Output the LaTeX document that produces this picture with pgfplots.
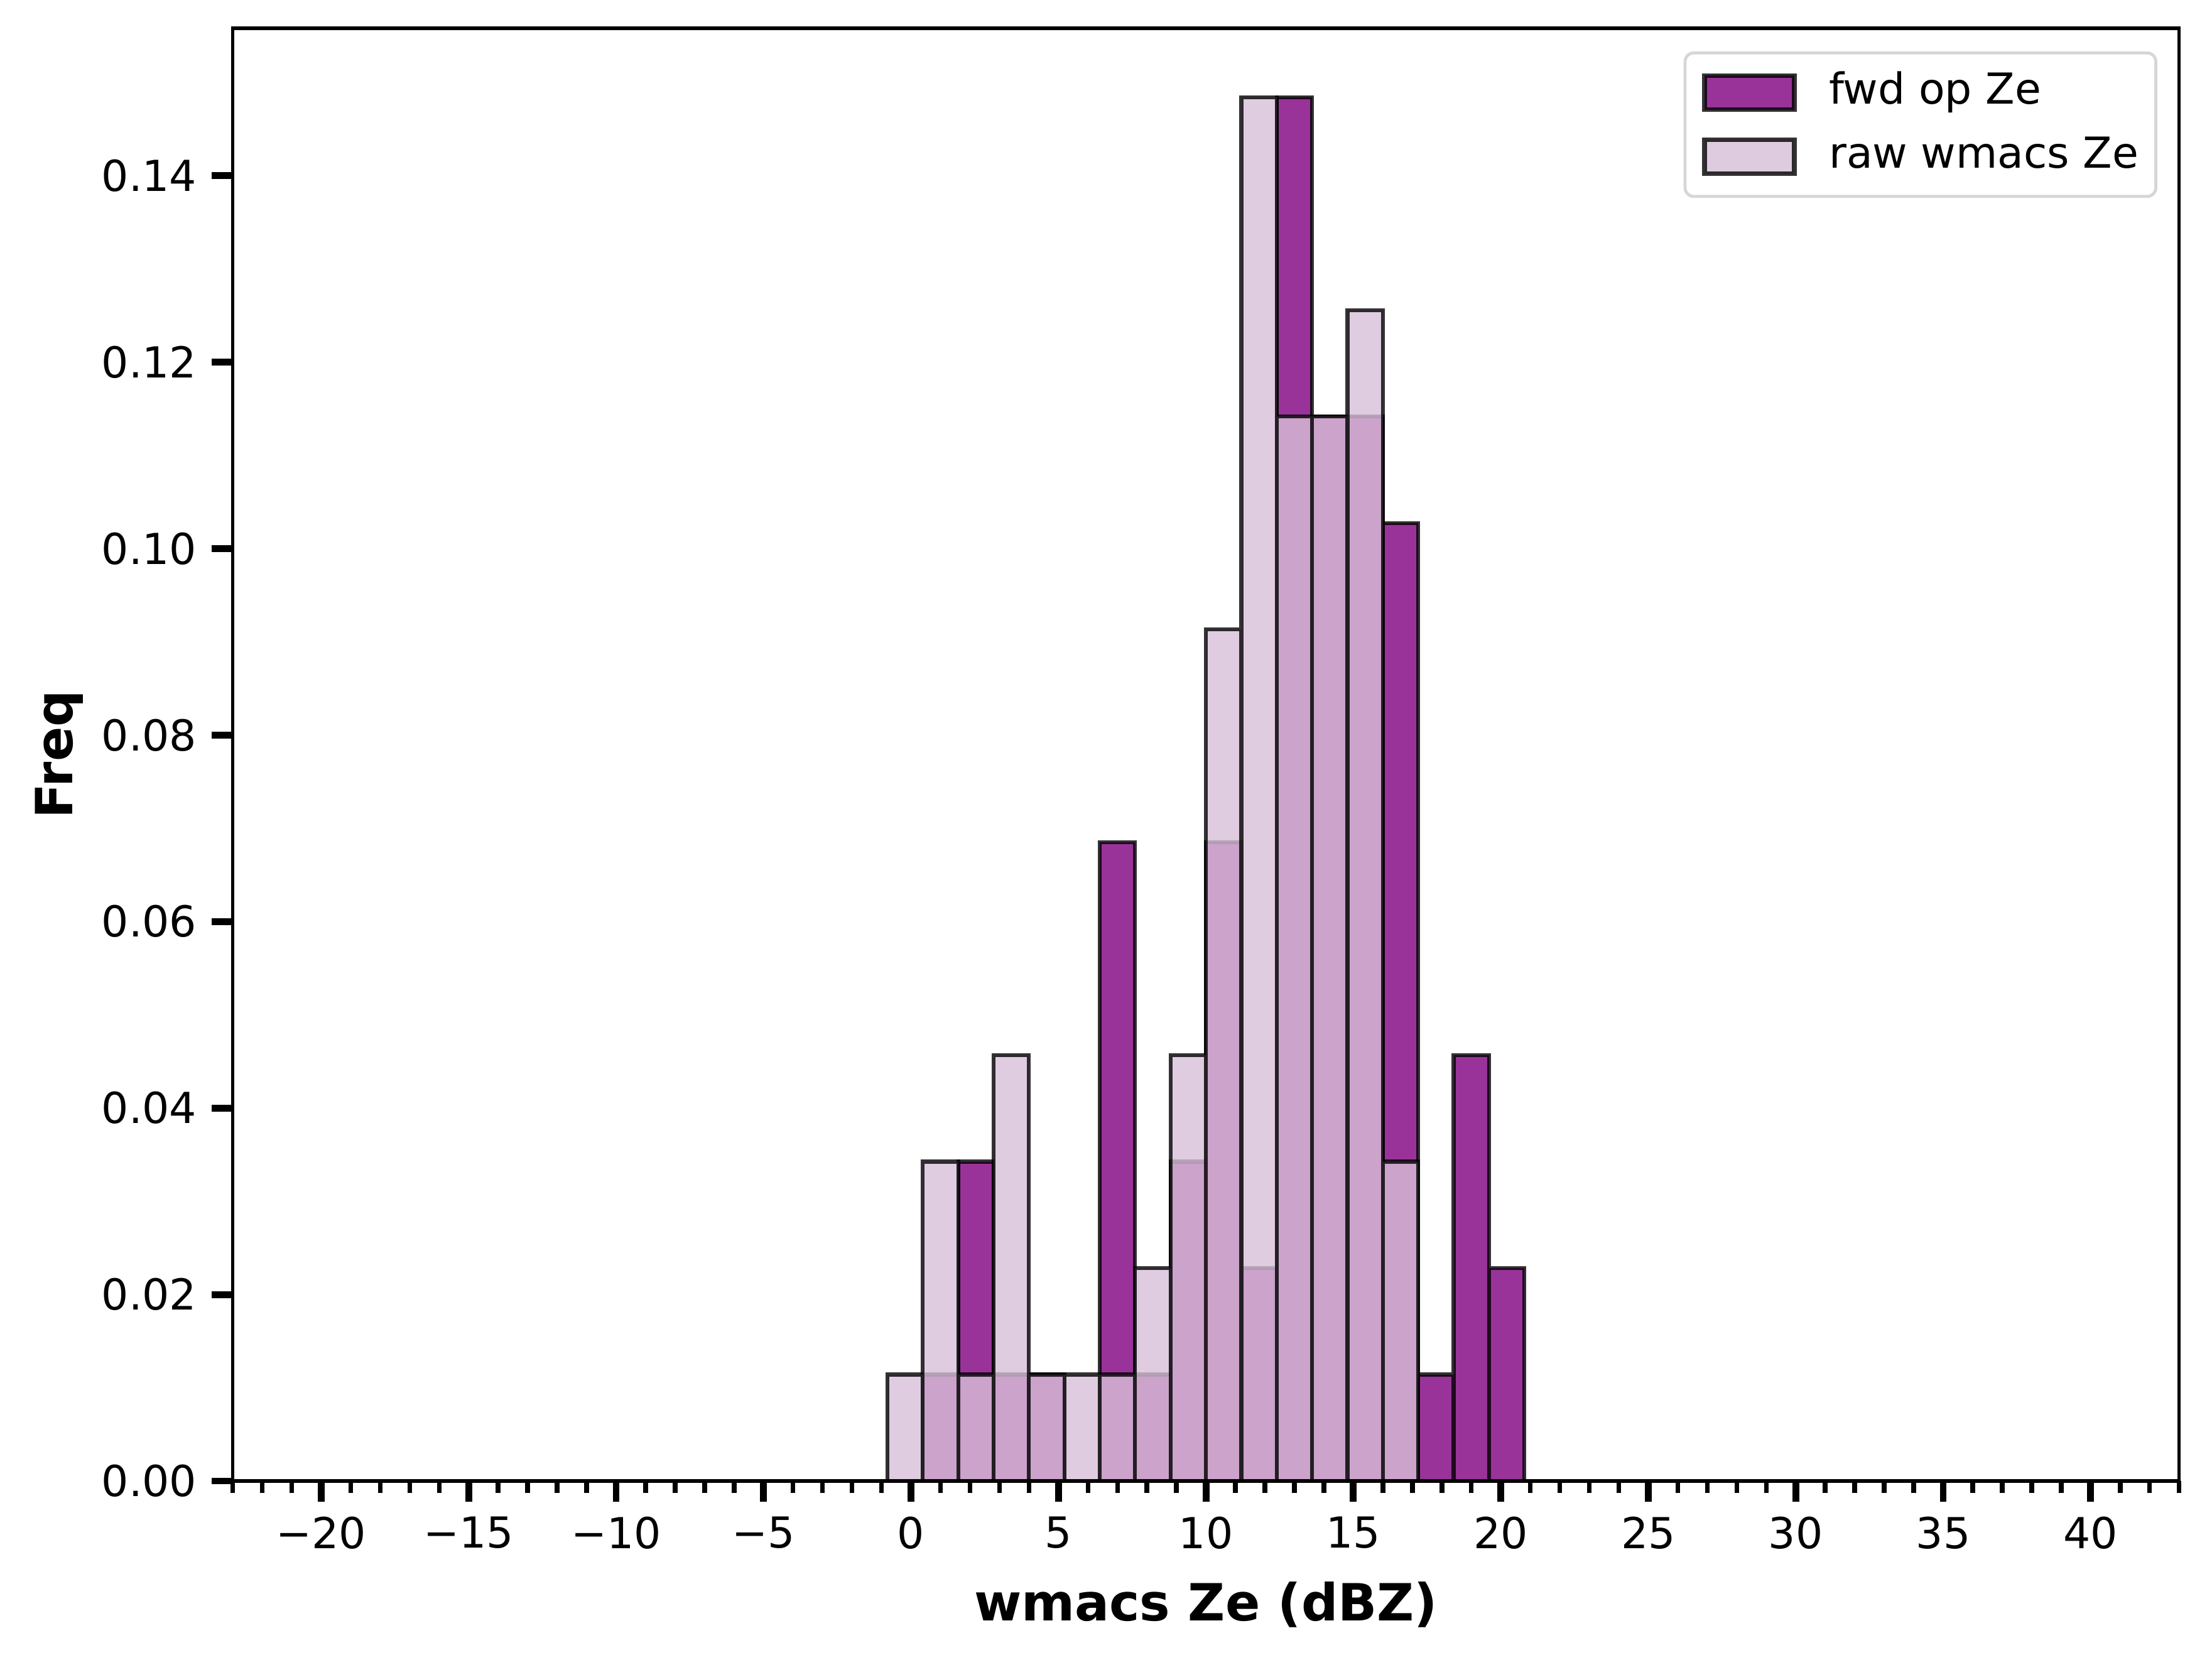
\documentclass[border=0pt]{standalone}
\usepackage{fontspec}
\setmainfont{DejaVu Sans}
\usepackage{pgfplots}
\pgfplotsset{compat=1.18}
\definecolor{fwdc}{RGB}{128,0,128}
\definecolor{rawc}{RGB}{216,191,216}
\definecolor{legframe}{RGB}{214,214,214}
\begin{document}
\begin{tikzpicture}
\path[use as bounding box] (-54.5pt,-41.9pt) rectangle (463.5pt,346.8pt);
\begin{axis}[
  at={(0,0)}, anchor=south west,
  scale only axis, width=455.8pt, height=340.2pt,
  xmin=-23, xmax=43, ymin=0, ymax=0.1558,
  axis on top,
  xtick={-20,-15,-10,-5,0,5,10,15,20,25,30,35,40},
  xticklabels={−20,−15,−10,−5,0,5,10,15,20,25,30,35,40},
  minor xtick={-23,-22,...,43},
  ytick={0,0.02,0.04,0.06,0.08,0.10,0.12,0.14},
  yticklabels={0.00,0.02,0.04,0.06,0.08,0.10,0.12,0.14},
  xtick pos=bottom, ytick pos=left,
  tick align=outside,
  major tick length=4.9pt, minor tick length=2.8pt,
  major tick style={line width=1.6pt, black},
  minor tick style={line width=1.1pt, black},
  axis line style={line width=0.8pt},
  tick label style={font=\fontsize{10}{12}\selectfont},
  label style={font=\fontsize{12}{14}\selectfont\bfseries},
  xlabel={wmacs Ze (dBZ)}, ylabel={Freq},
  xlabel style={at={(axis description cs:0.5,-0.0852)}, anchor=center},
  ylabel style={at={(axis description cs:-0.0891,0.5)}, anchor=center},
  legend cell align=left,
  legend image code/.code={\draw[#1, sharp corners, line width=1.1pt] (0pt,-4pt) rectangle (21pt,4pt);},
  legend style={at={(axis description cs:0.9888,0.984)}, anchor=north east,
    draw=legframe, line width=0.7pt, rounded corners=2pt,
    font=\fontsize{10}{12}\selectfont,
    inner xsep=4pt, inner ysep=1.8pt,
    nodes={inner xsep=0pt, inner ysep=2.5pt, text height=7.6pt, text depth=2.4pt},
    /tikz/every odd column/.append style={column sep=7.6pt}},
]
\addplot[ybar interval, fill=fwdc, fill opacity=0.8, draw=black, draw opacity=0.8, line width=0.9pt]
coordinates {
(-0.8,0) (0.4,0.011416) (1.6,0.034247) (2.8,0.011416) (4.0,0.011416) (5.2,0)
(6.4,0.068493) (7.6,0.011416) (8.8,0.034247) (10.0,0.068493) (11.2,0.022831)
(12.4,0.148402) (13.6,0.114155) (14.8,0.114155) (16.0,0.102740) (17.2,0.011416)
(18.4,0.045662) (19.6,0.022831) (20.8,0.022831)
};
\addlegendentry{fwd op Ze}
\addplot[ybar interval, fill=rawc, fill opacity=0.8, draw=black, draw opacity=0.8, line width=0.9pt]
coordinates {
(-0.8,0.011416) (0.4,0.034247) (1.6,0.011416) (2.8,0.045662) (4.0,0.011416) (5.2,0.011416)
(6.4,0.011416) (7.6,0.022831) (8.8,0.045662) (10.0,0.091324) (11.2,0.148402)
(12.4,0.114155) (13.6,0.114155) (14.8,0.125571) (16.0,0.034247) (17.2,0)
(18.4,0) (19.6,0) (20.8,0)
};
\addlegendentry{raw wmacs Ze}
\end{axis}
\end{tikzpicture}
\end{document}
